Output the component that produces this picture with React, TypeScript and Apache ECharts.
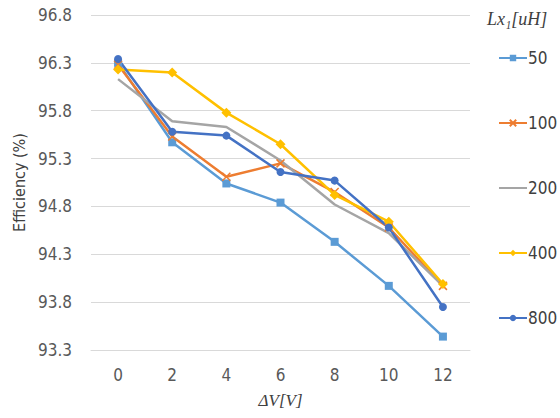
import React, { useEffect, useRef } from "react";
import * as echarts from "echarts";

const categories = ["0", "2", "4", "6", "8", "10", "12"];
const seriesNames = ["50", "100", "200", "400", "800"];
const s50 = [96.3, 95.47, 95.04, 94.84, 94.43, 93.97, 93.44];
const s100 = [96.28, 95.53, 95.11, 95.25, 94.95, 94.58, 93.97];
const s200 = [96.13, 95.69, 95.63, 95.28, 94.82, 94.52, 93.97];
const s400 = [96.23, 96.2, 95.78, 95.45, 94.92, 94.64, 93.99];
const s800 = [96.34, 95.58, 95.54, 95.16, 95.07, 94.58, 93.75];
const yMin = 93.3;
const yMax = 96.8;
const yStep = 0.5;

const colors = ["#5B9BD5", "#ED7D31", "#A5A5A5", "#FFC000", "#4472C4"];
const symbols = ["rect", "cross", "none", "diamond", "circle"];
const crossPath = "path://M0,0L10,10M10,0L0,10";

export default function App() {
  const ref = useRef<HTMLDivElement>(null);
  useEffect(() => {
    if (!ref.current) return;
    const chart = echarts.init(ref.current, undefined, { renderer: "svg" });
    const all = [s50, s100, s200, s400, s800];
    const font = "'Liberation Sans Narrow', 'DejaVu Sans Condensed', 'Liberation Sans', sans-serif";
    const serif = "'Liberation Serif', 'DejaVu Serif', serif";
    chart.setOption({
      animation: false,
      grid: { left: 91, right: 90, top: 15, bottom: 68 },
      title: {
        text: "Lx₁[uH]",
        left: 482,
        top: 5,
        textStyle: {
          fontFamily: serif,
          fontStyle: "italic",
          fontWeight: "normal",
          fontSize: 18,
          color: "#404040",
        },
      },
      legend: {
        orient: "vertical",
        left: 493,
        top: 43,
        itemGap: 45,
        itemWidth: 28,
        itemHeight: 8,
        data: seriesNames.map((n, i) =>
          symbols[i] === "none"
            ? { name: n, itemStyle: { color: "rgba(0,0,0,0)", borderWidth: 0, opacity: 0 } }
            : { name: n }
        ),
        textStyle: {
          fontFamily: font,
          fontSize: 17,
          color: "#404040",
          padding: [0, 0, 0, -4],
          lineHeight: 20,
        },
      },
      xAxis: {
        type: "category",
        data: categories,
        boundaryGap: true,
        axisLine: { show: true, lineStyle: { color: "#D9D9D9" } },
        axisTick: { show: false },
        axisLabel: { fontFamily: font, fontSize: 17, color: "#595959", margin: 16 },
        name: "ΔV[V]",
        nameLocation: "middle",
        nameGap: 42,
        nameTextStyle: {
          fontFamily: serif,
          fontStyle: "italic",
          fontSize: 17,
          color: "#404040",
        },
      },
      yAxis: {
        type: "value",
        min: yMin,
        max: yMax,
        interval: yStep,
        axisLine: { show: false },
        axisTick: { show: false },
        splitLine: { lineStyle: { color: "#D9D9D9", width: 1 } },
        axisLabel: {
          fontFamily: font,
          fontSize: 17,
          color: "#595959",
          margin: 19,
          formatter: (v: number) => v.toFixed(1),
        },
        name: "Efficiency (%)",
        nameLocation: "middle",
        nameRotate: 90,
        nameGap: 62,
        nameTextStyle: { fontFamily: font, fontSize: 16, color: "#404040" },
      },
      series: seriesNames.map((n, i) => ({
        name: n,
        type: "line",
        data: all[i],
        symbol: symbols[i] === "cross" ? crossPath : symbols[i],
        symbolSize: symbols[i] === "diamond" ? 10 : 8,
        lineStyle: { color: colors[i], width: 2.5 },
        itemStyle: symbols[i] === "cross"
          ? { color: "none", borderColor: colors[i], borderWidth: 1.5 }
          : { color: colors[i] },
      })),
    });
    return () => chart.dispose();
  }, []);
  return (
    <div
      ref={ref}
      style={{ position: "absolute", left: 0, top: 0, width: 560, height: 418 }}
    />
  );
}
